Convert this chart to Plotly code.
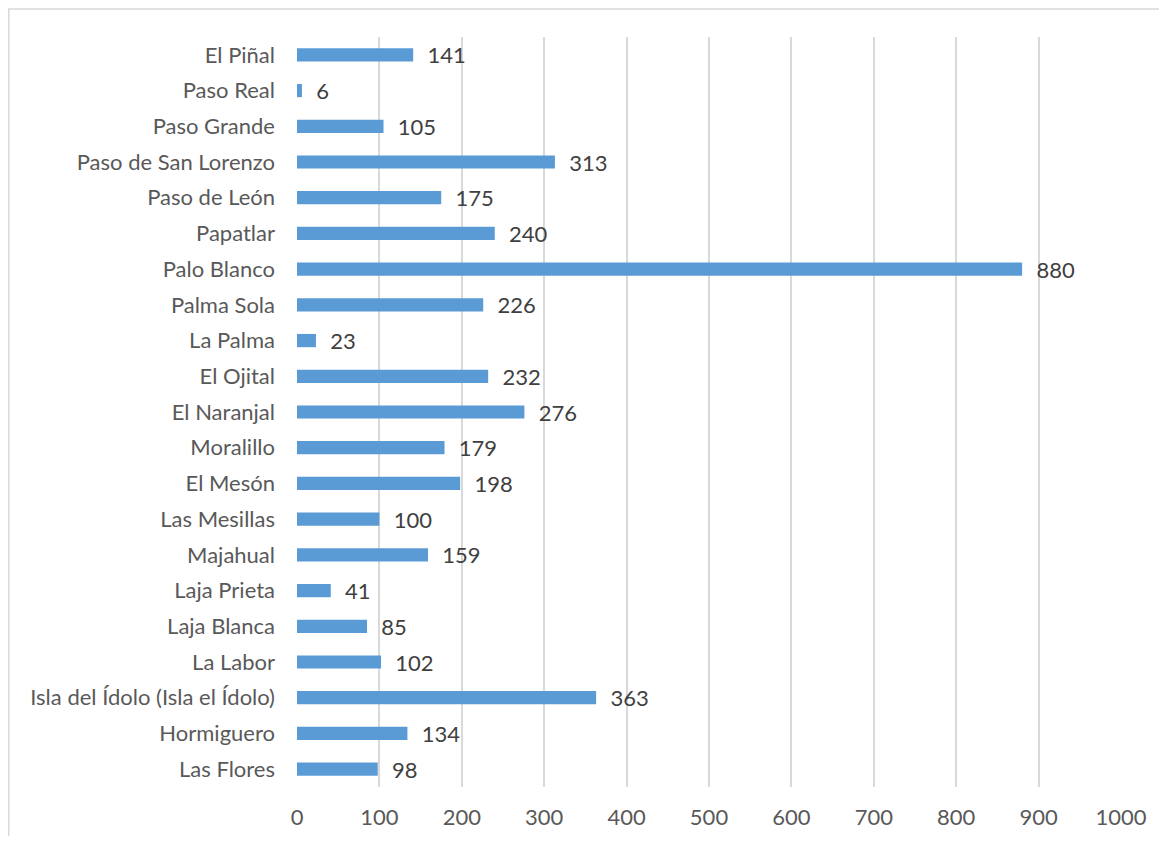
import plotly.graph_objects as go

categories = ["Las Flores", "Hormiguero", "Isla del Ídolo (Isla el Ídolo)", "La Labor",
              "Laja Blanca", "Laja Prieta", "Majahual", "Las Mesillas", "El Mesón",
              "Moralillo", "El Naranjal", "El Ojital", "La Palma", "Palma Sola",
              "Palo Blanco", "Papatlar", "Paso de León", "Paso de San Lorenzo",
              "Paso Grande", "Paso Real", "El Piñal"]
values = [98, 134, 363, 102, 85, 41, 159, 100, 198, 179, 276, 232, 23, 226,
          880, 240, 175, 313, 105, 6, 141]
tick_vals = [0, 100, 200, 300, 400, 500, 600, 700, 800, 900, 1000]

# page has an 8px body margin, so the figure is sized/offset to compensate
OFF = 8
W, H = 1167 - 2 * OFF, 844 - 2 * OFF
L = 297 - OFF
T = 37 - OFF
R = W - (1121 - OFF)
B = H - (787 - OFF)
pw, ph = W - L - R, H - T - B
FONT = "Lato"
FS = 22

fig = go.Figure(go.Bar(
    y=categories, x=values, orientation="h",
    marker=dict(color="#5B9BD5", line=dict(width=0)),
    width=0.37,
    texttemplate="\u00a0\u00a0%{x}", textposition="outside",
    constraintext="none",
    textfont=dict(color="#404040", size=FS, family=FONT),
    cliponaxis=False,
))

fig.update_layout(
    width=W, height=H,
    margin=dict(l=L, r=R, t=T, b=B, autoexpand=False),
    paper_bgcolor="white", plot_bgcolor="white",
    font=dict(family=FONT, size=FS, color="#595959"),
    showlegend=False,
    xaxis=dict(range=[0, 1000], tickvals=tick_vals, showgrid=True,
               gridcolor="#D9D9D9", gridwidth=1.5, zeroline=False,
               showline=False, ticks="", ticklabelstandoff=15,
               automargin=False,
               tickfont=dict(size=FS, color="#595959")),
    yaxis=dict(categoryorder="array", categoryarray=categories,
               showgrid=False, zeroline=False, showline=False, ticks="",
               ticklabelstandoff=21, automargin=False,
               tickfont=dict(size=FS, color="#595959")),
    shapes=[dict(type="rect", xref="paper", yref="paper",
                 x0=(0.75 - L) / pw, x1=(W + 10 - L) / pw,
                 y0=-(B + 10) / ph, y1=1 + (T - 1) / ph,
                 line=dict(color="#D9D9D9", width=1.5), layer="below")],
)

fig.write_html("out.html")
